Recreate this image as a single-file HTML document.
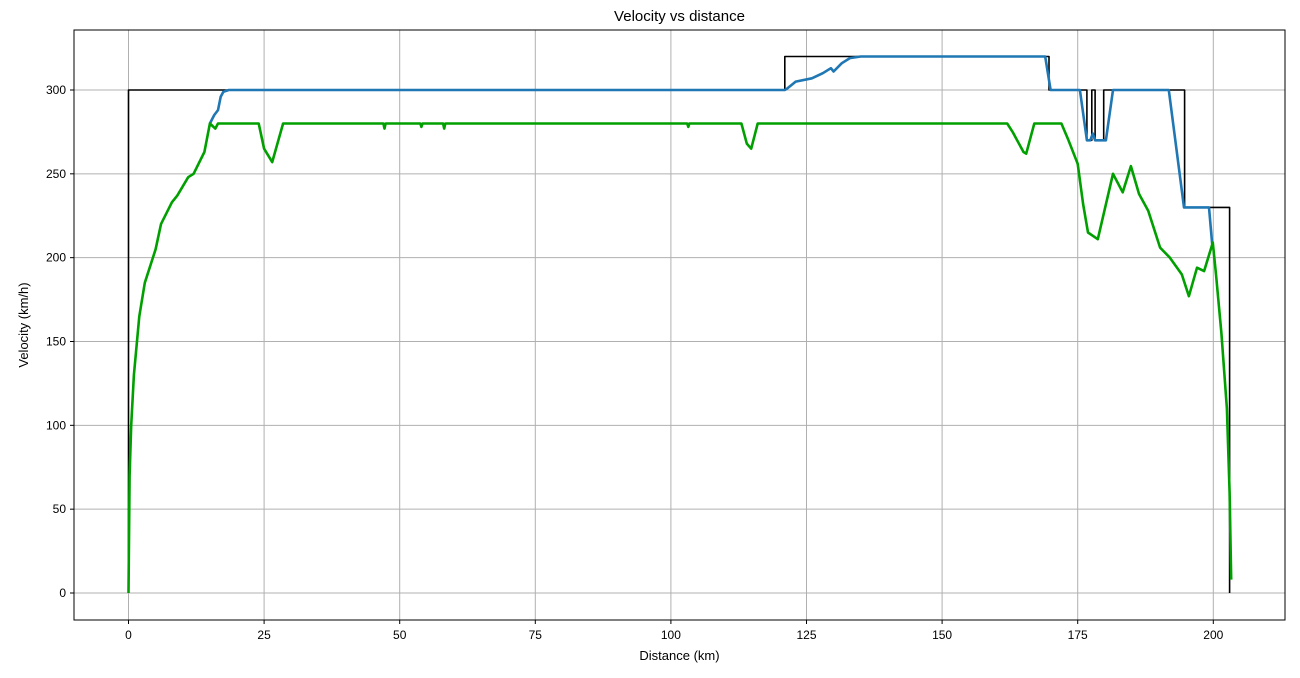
<!DOCTYPE html>
<html><head><meta charset="utf-8"><style>
body{margin:0;background:#fff;}
svg{display:block;font-family:"Liberation Sans","DejaVu Sans",sans-serif;}
</style></head><body>
<svg id="chart" width="1300" height="678" viewBox="0 0 1300 678" xmlns="http://www.w3.org/2000/svg">
<rect width="1300" height="678" fill="#fff"/>
<text x="679.5" y="21" text-anchor="middle" font-size="15">Velocity vs distance</text>
<g id="grid"></g>
<g id="series"></g>
<rect x="74" y="30" width="1211" height="590" fill="none" stroke="#000" stroke-width="1"/>
<g id="ticks"></g>
<text x="679.5" y="660" text-anchor="middle" font-size="13">Distance (km)</text>
<text transform="translate(28,325) rotate(-90)" text-anchor="middle" font-size="13">Velocity (km/h)</text>
</svg>
<script>
const xTicks=[0,25,50,75,100,125,150,175,200];
const yTicks=[0,50,100,150,200,250,300];
const limitX=[0,0,121,121,169.7,169.7,176.7,176.7,177.6,177.6,178.2,178.2,179.8,179.8,194.7,194.7,203,203];
const limitV=[0,300,300,320,320,300,300,270,270,300,300,270,270,300,300,230,230,0];
const planX=[15,15.8,16.5,17,17.5,18.5,121,121.5,123,126,128,129.5,130,131.5,133,135,169,170,175.4,176.7,177.3,177.8,178.2,180.2,181.5,191.8,194.6,199.2,199.8];
const planV=[280,285,288,296,299,300,300,301,305,307,310,313,311,316,319,320,320,300,300,270,270,274,270,270,300,300,230,230,208];
const actualX=[0,0.2,0.5,1,2,3,5,6,8,9,11,12,14,15,16,16.5,24,25,26.5,28.5,47,47.2,47.4,53.8,54,54.2,58,58.2,58.4,103,103.2,103.4,113,114,114.8,116,162,163,165,165.5,167,172,173.3,175,176,176.9,178.7,181.5,183.3,184.8,186.3,188,190.2,192,194.2,195.5,197,198.3,199.9,200.5,201.5,202.5,203,203.3];
const actualV=[0,70,100,130,165,185,205,220,233,237,248,250,263,280,277,280,280,265,257,280,280,277,280,280,278,280,280,277,280,280,278,280,280,268,265,280,280,275,263,262,280,280,270,256,232,215,211,250,239,254.6,238,228,206,200,190,177,194,192,209,190,155,110,60,8];
const X=v=>128.5+v*5.424, Y=v=>593-v*1.6767;
const NS="http://www.w3.org/2000/svg";
const grid=document.getElementById('grid'),ticks=document.getElementById('ticks'),ser=document.getElementById('series');
function mk(tag,attrs,parent){const e=document.createElementNS(NS,tag);for(const k in attrs)e.setAttribute(k,attrs[k]);parent.appendChild(e);return e;}
xTicks.forEach(t=>{
 const l=mk('line',{x1:X(t),x2:X(t),y1:30,y2:620,stroke:'#b0b0b0','stroke-width':1},grid);
 
 
 mk('line',{x1:X(t),x2:X(t),y1:620,y2:624,stroke:'#000'},ticks);
 const tx=mk('text',{x:X(t),y:639,'text-anchor':'middle','font-size':12},ticks);tx.textContent=t;
 
 
});
yTicks.forEach(t=>{
 const l=mk('line',{x1:74,x2:1285,y1:Y(t),y2:Y(t),stroke:'#b0b0b0','stroke-width':1},grid);
 
 
 mk('line',{x1:70,x2:74,y1:Y(t),y2:Y(t),stroke:'#000'},ticks);
 const tx=mk('text',{x:66,y:Y(t)+4,'text-anchor':'end','font-size':12},ticks);tx.textContent=t;
 
 
});
function line(xs,vs,color,w,name){
 const d=xs.map((x,i)=>(i?'L':'M')+X(x).toFixed(1)+','+Y(vs[i]).toFixed(1)).join('');
 const p=mk('path',{d:d,fill:'none',stroke:color,'stroke-width':w,'stroke-linejoin':'round'},ser);
 
 
}
line(limitX,limitV,'#000',1.6,'speed-limit-line');
line(planX,planV,'#1f77b4',2.6,'planned-velocity-line');
line(actualX,actualV,'#00a000',2.6,'actual-velocity-line');
</script>
</body></html>
